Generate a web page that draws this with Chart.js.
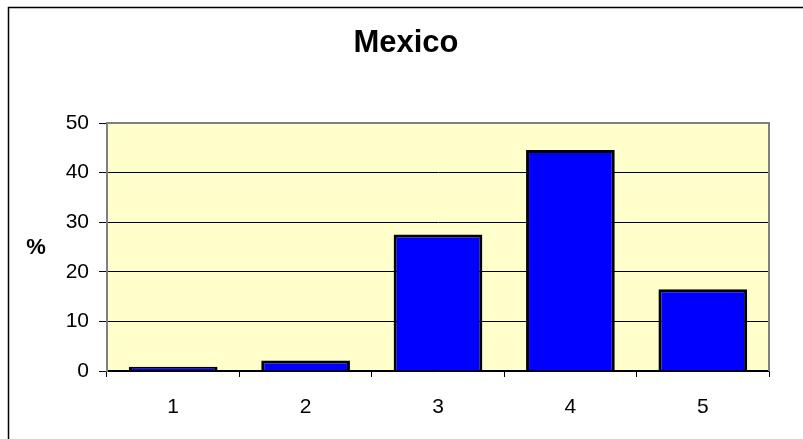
<!DOCTYPE html>
<html>
<head>
<meta charset="utf-8">
<script src="https://cdn.jsdelivr.net/npm/chart.js@4/dist/chart.umd.min.js"></script>
<style>
  html, body { margin: 0; padding: 0; background: #fff; }
  #wrap { width: 803px; height: 439px; }
</style>
</head>
<body>
<div id="wrap"><canvas id="chart"></canvas></div>
<script>
const categories = ["1", "2", "3", "4", "5"];
const percentValues = [0.85, 2.1, 27.5, 44.55, 16.5];
const yTicks = [0, 10, 20, 30, 40, 50];
const chartTitle = "Mexico";
const yLabel = "%";

const FONT = "'Liberation Sans', Arial, sans-serif";

// plot background, outer frame, title and the "%" label
const framePlugin = {
  id: "frame",
  beforeDraw(chart) {
    const { ctx, chartArea: a } = chart;
    ctx.save();
    ctx.fillStyle = "#ffffff";
    ctx.fillRect(0, 0, chart.width, chart.height);
    ctx.fillStyle = "#FFFFCC";
    ctx.fillRect(a.left, a.top, a.right - a.left, a.bottom - a.top);
    ctx.restore();
  },
  afterDatasetsDraw(chart) {
    const { ctx, chartArea: a } = chart;
    ctx.save();
    ctx.strokeStyle = "#808080";
    ctx.lineWidth = 2;
    ctx.beginPath();
    ctx.moveTo(a.left, a.top);
    ctx.lineTo(a.right, a.top);
    ctx.lineTo(a.right, a.bottom);
    ctx.stroke();

    ctx.strokeStyle = "#000";
    ctx.lineWidth = 1.5;
    ctx.beginPath();
    ctx.moveTo(8.5, chart.height + 2);
    ctx.lineTo(8.5, 7.5);
    ctx.lineTo(chart.width + 2, 7.5);
    ctx.stroke();

    ctx.fillStyle = "#000";
    ctx.textAlign = "center";
    ctx.textBaseline = "middle";
    ctx.font = "bold 31px " + FONT;
    ctx.fillText(chartTitle, 406, 43);
    ctx.font = "bold 22px " + FONT;
    ctx.fillText(yLabel, 36, 248);
    ctx.restore();
  }
};

new Chart(document.getElementById("chart"), {
  type: "bar",
  data: {
    labels: categories,
    datasets: [{
      data: percentValues,
      backgroundColor: "#0000FF",
      borderColor: "#000000",
      borderWidth: 3,
      barPercentage: 0.67,
      categoryPercentage: 1.0
    }]
  },
  options: {
    responsive: true,
    maintainAspectRatio: false,
    animation: false,
    layout: { padding: { left: 0, right: 34, top: 123, bottom: 0 } },
    plugins: {
      legend: { display: false },
      tooltip: { enabled: false },
      title: { display: false }
    },
    scales: {
      x: {
        offset: true,
        grid: {
          offset: true,
          drawOnChartArea: false,
          drawTicks: true,
          tickLength: 6,
          color: "#000",
          tickColor: "#000"
        },
        border: { color: "#000", width: 1.5 },
        ticks: {
          color: "#000",
          padding: 18,
          font: { family: FONT, size: 21 }
        },
        afterFit(scale) { scale.height = 68; }
      },
      y: {
        min: 0,
        max: 50,
        afterBuildTicks(scale) { scale.ticks = yTicks.map(v => ({ value: v })); },
        grid: {
          color: ctx => (ctx.tick && ctx.tick.value === 50 ? "#808080" : "#000"),
          tickColor: "#000",
          tickLength: 8,
          lineWidth: 1
        },
        border: { color: "#808080", width: 2 },
        ticks: {
          color: "#000",
          padding: 10,
          font: { family: FONT, size: 21 }
        },
        afterFit(scale) { scale.width = 107; }
      }
    }
  },
  plugins: [framePlugin]
});
</script>
</body>
</html>
